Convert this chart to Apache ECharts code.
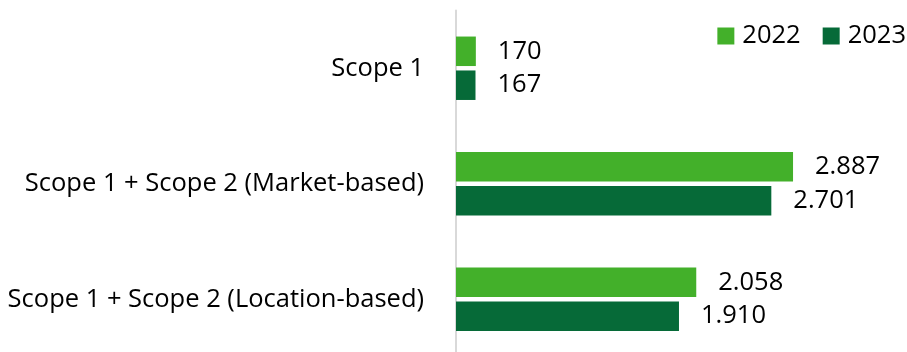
<!DOCTYPE html>
<html><head><meta charset="utf-8">
<script src="https://cdn.jsdelivr.net/npm/echarts@6/dist/echarts.min.js"></script>
<style>html,body{margin:0;padding:0;background:#fff}#c{width:907px;height:352px}</style>
</head><body><div id="c"></div>
<script>
const categories = ["Scope 1", "Scope 1 + Scope 2 (Market-based)", "Scope 1 + Scope 2 (Location-based)"];
const seriesNames = ["2022", "2023"];
const values2022 = [170, 2887, 2058];
const values2023 = [167, 2701, 1910];
const colors = ["#43B02A", "#066A38"];
const FONT = "Open Sans";
const FS = 25.5;

function fmt(v) {
  return String(v).replace(/\B(?=(\d{3})+(?!\d))/g, ".");
}

const chart = echarts.init(document.getElementById('c'));
const label = {
  show: true, position: 'right', distance: 22,
  color: '#000', fontFamily: FONT, fontSize: FS,
  formatter: p => fmt(p.value)
};
chart.setOption({
  animation: false,
  textStyle: { fontFamily: FONT },
  legend: {
    data: seriesNames, right: -4, top: 18,
    itemWidth: 17, itemHeight: 17, itemGap: 22,
    icon: 'rect',
    textStyle: { fontFamily: FONT, fontSize: FS, color: '#000', padding: [0, 0, 0, 3] }
  },
  grid: { left: 456, top: 10.5, width: 408.6, height: 346.5, containLabel: false, outerBoundsMode: 'none' },
  xAxis: {
    type: 'value', min: 0, max: 3500,
    show: false, splitLine: { show: false }
  },
  yAxis: {
    type: 'category', data: categories, inverse: true,
    axisLine: { show: true, lineStyle: { color: '#D9D9D9', width: 2 } },
    axisTick: { show: false },
    axisLabel: { fontFamily: FONT, fontSize: FS, color: '#000', margin: 32 }
  },
  series: [
    { name: seriesNames[0], type: 'bar', data: values2022, barWidth: 29.5, barGap: '15%',
      itemStyle: { color: colors[0] }, label: label },
    { name: seriesNames[1], type: 'bar', data: values2023, barWidth: 29.5, barGap: '15%',
      itemStyle: { color: colors[1] }, label: label }
  ]
});
</script></body></html>
